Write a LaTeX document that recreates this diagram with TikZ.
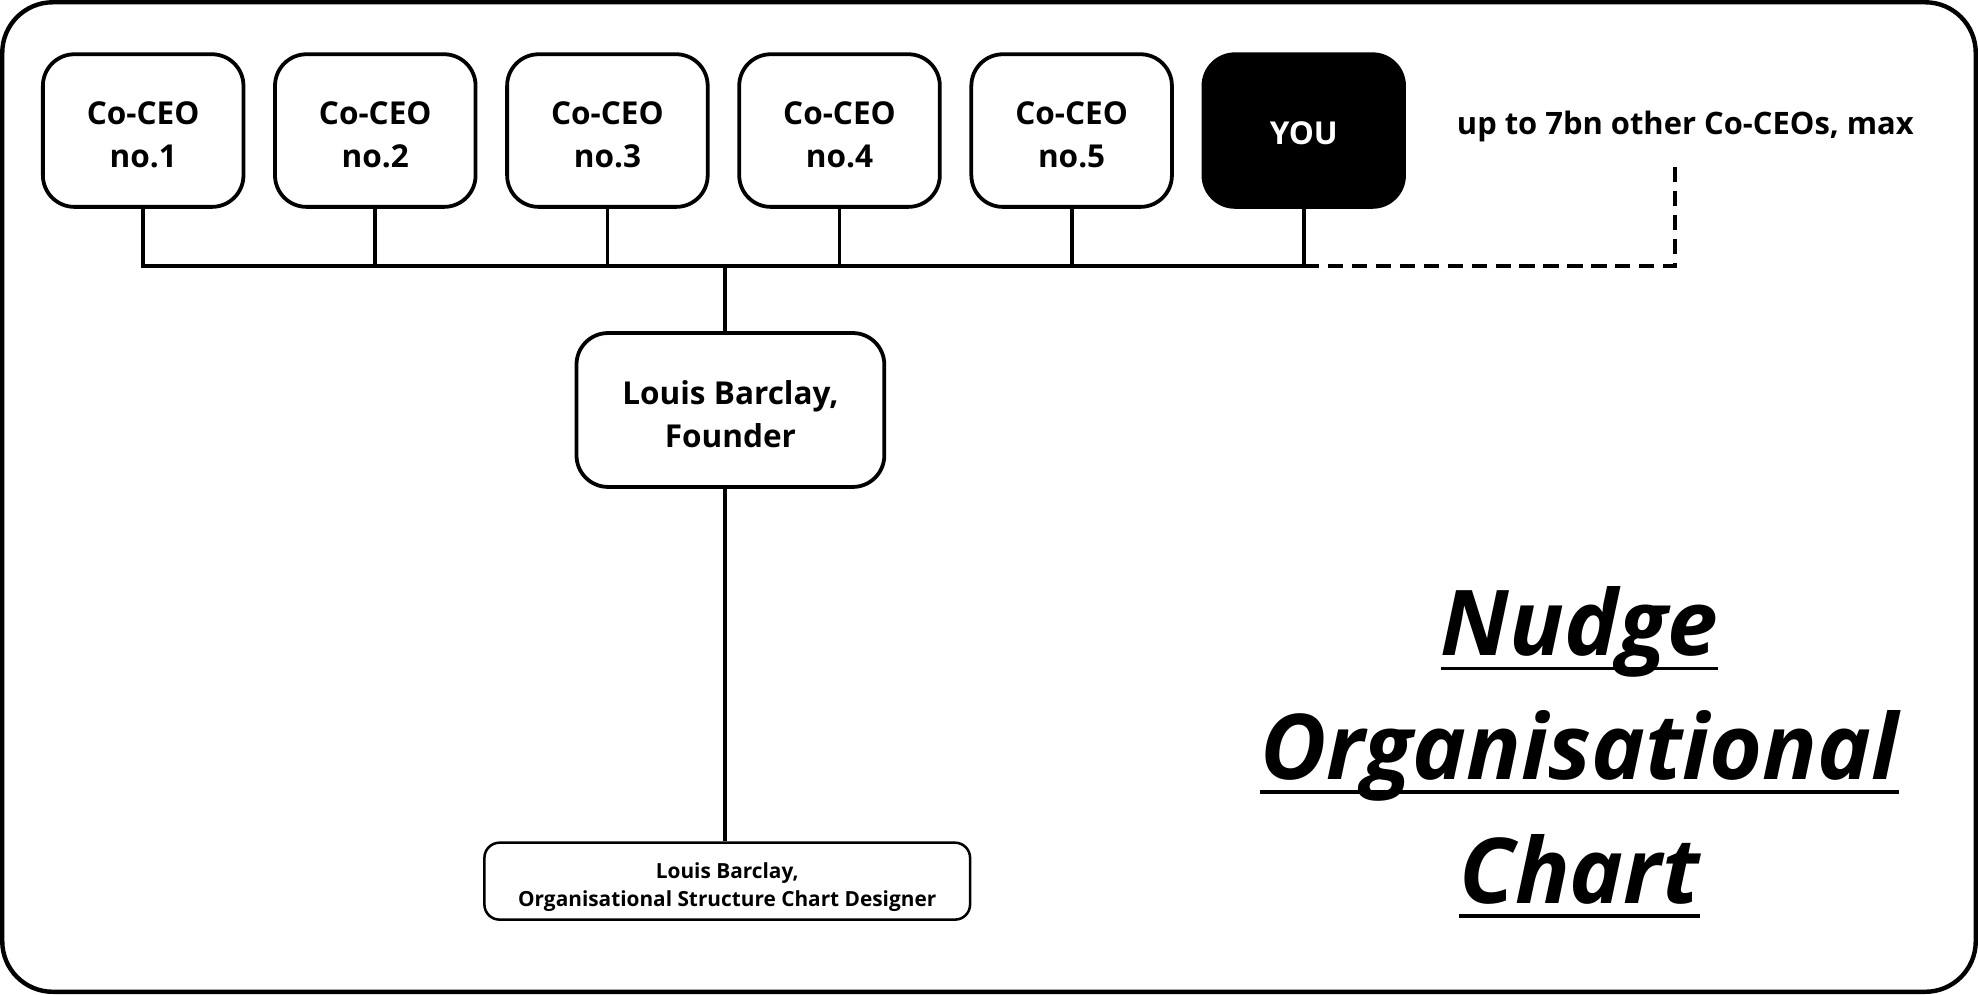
\documentclass[tikz,border=0pt]{standalone}
\usepackage{fontspec}
\setmainfont{Open Sans}
\begin{document}
\begin{tikzpicture}[x=1pt,y=-1pt,
  ceo/.style={draw, line width=3pt, rounded corners=25pt, minimum width=159pt, minimum height=121pt, align=center, inner sep=0pt, text height=58.3pt, font=\fontsize{25}{34}\selectfont\bfseries},
  youbox/.style={fill=black, draw=black, line width=3pt, rounded corners=25pt, minimum width=159pt, minimum height=121pt, align=center, inner sep=0pt, text height=22.5pt, text=white, font=\fontsize{25}{34}\selectfont\bfseries},
  founderbox/.style={draw, line width=3pt, rounded corners=25pt, minimum width=244pt, minimum height=122pt, align=center, inner sep=0pt, text height=59pt, font=\fontsize{25}{34}\selectfont\bfseries},
  designerbox/.style={draw, line width=2pt, rounded corners=12pt, minimum width=385pt, minimum height=61pt, align=center, inner sep=0pt, text height=44.5pt, font=\fontsize{16.5}{22}\selectfont\bfseries},
  conn/.style={line width=3pt},
  dashconn/.style={line width=3pt, dash pattern=on 12pt off 7pt},
  titletext/.style={anchor=base, inner sep=0pt, font=\fontsize{72}{98}\selectfont\bfseries\itshape},
  uline/.style={line width=3pt},
  note/.style={inner sep=0pt, font=\fontsize{24.5}{30}\selectfont\bfseries}
]
\useasboundingbox (0,0) rectangle (1568,788);
\draw[line width=3.5pt, rounded corners=40pt] (1.8,1.8) rectangle (1566.2,786.2);

\node[ceo] (c1) at (113.5,103.5) {Co-CEO\\no.1};
\node[ceo] (c2) at (297.5,103.5) {Co-CEO\\no.2};
\node[ceo] (c3) at (481.5,103.5) {Co-CEO\\no.3};
\node[ceo] (c4) at (665.5,103.5) {Co-CEO\\no.4};
\node[ceo] (c5) at (849.5,103.5) {Co-CEO\\no.5};
\node[youbox] (you) at (1033.5,103.5) {YOU};
\node[note] (others) at (1336,100) {up to 7bn other Co-CEOs, max};

\coordinate (busy) at (0,211);
\coordinate (hub) at (575,211);
\coordinate (dcorner) at (1328,211);
\coordinate (dend) at (1328,128);

\draw[conn] (c1.south) -- (c1.south |- busy) -- (you.south |- busy) -- (you.south);
\draw[conn] (c2.south) -- (c2.south |- busy);
\draw[conn] (c3.south) -- (c3.south |- busy);
\draw[conn] (c4.south) -- (c4.south |- busy);
\draw[conn] (c5.south) -- (c5.south |- busy);
\draw[dashconn] (you.south |- busy) -- (dcorner) -- (dend);

\node[founderbox] (founder) at (579,325) {Louis Barclay,\\Founder};
\node[designerbox] (designer) at (576.5,698.5) {Louis Barclay,\\Organisational Structure Chart Designer};

\draw[conn] (hub) -- (hub |- founder.north);
\draw[conn] (hub |- founder.south) -- (hub |- designer.north);

\node[titletext] (t1) at (1252,520) {Nudge};
\node[titletext] (t2) at (1252,618) {Organisational};
\node[titletext] (t3) at (1252,716) {Chart};
\draw[uline] ([yshift=-10pt]t1.base west) -- ([yshift=-10pt]t1.base east);
\draw[uline] ([yshift=-10pt]t2.base west) -- ([yshift=-10pt]t2.base east);
\draw[uline] ([yshift=-10pt]t3.base west) -- ([yshift=-10pt]t3.base east);
\end{tikzpicture}
\end{document}
